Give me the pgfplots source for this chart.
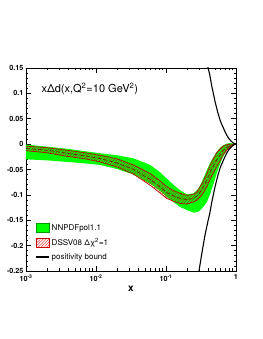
\documentclass[border=0pt]{standalone}
\usepackage{fontspec}
\setmainfont{TeX Gyre Heros}
\usepackage{pgfplots}
\pgfplotsset{compat=1.18}
\usetikzlibrary{patterns,patterns.meta}
\begin{document}
\begin{tikzpicture}
\begin{axis}[
  scale only axis, width=210pt, height=203pt,
  xmode=log, xmin=1e-3, xmax=1, ymin=-0.25, ymax=0.15,
  xtick={0.001,0.01,0.1,1},
  xticklabels={10\textsuperscript{-3},10\textsuperscript{-2},10\textsuperscript{-1},1},
  ytick={-0.25,-0.2,-0.15,-0.1,-0.05,0,0.05,0.1,0.15},
  yticklabels={-0.25,-0.2,-0.15,-0.1,-0.05,0,0.05,0.1,0.15},
  minor y tick num=4,
  tick label style={font=\fontsize{7.2}{8}\selectfont\bfseries},
  yticklabel style={xshift=1pt},
  major tick length=5pt, minor tick length=2.5pt,
  every tick/.style={black, line width=0.6pt},
  axis line style={line width=0.8pt},
  xlabel={x}, xlabel style={font=\fontsize{10}{11}\selectfont\bfseries, yshift=2pt},
  legend style={at={(rel axis cs:0.045,0.04)}, anchor=south west, draw=none, fill=none,
    font=\fontsize{8}{9}\selectfont, row sep=2.5pt, inner sep=0pt},
  legend cell align=left,
]
\addlegendimage{legend image code/.code={\draw[fill=green,draw=green!60!black] (0pt,-4.5pt) rectangle (13pt,4.5pt);}}
\addlegendentry{NNPDFpol1.1}
\addlegendimage{legend image code/.code={\draw[pattern={Lines[angle=45,distance=2pt,line width=0.35pt]}, pattern color=red!90!black, draw=red!80!black, line width=0.6pt] (0pt,-4.5pt) rectangle (13pt,4.5pt);}}
\addlegendentry{DSSV08 Δχ\textsuperscript{2}=1}
\addlegendimage{legend image code/.code={\draw[black, line width=1.1pt] (0pt,0pt) -- (13pt,0pt);}}
\addlegendentry{positivity bound}

% NNPDF band
\addplot[fill=green, draw=none, forget plot] coordinates {
(0.001,-0.001)(0.002,-0.005)(0.00382,-0.009)(0.007,-0.014)(0.01145,-0.018)(0.02,-0.022)(0.0343,-0.028)(0.0594,-0.041)(0.08,-0.054)(0.1028,-0.068)(0.13,-0.081)(0.1596,-0.091)(0.199,-0.099)(0.2477,-0.097)(0.28,-0.090)(0.308,-0.081)(0.345,-0.066)(0.384,-0.051)(0.43,-0.036)(0.479,-0.025)(0.53,-0.015)(0.596,-0.007)(0.66,-0.002)(0.743,0.001)(0.83,0.002)(0.925,0.001)(1,0)
(1,0)(0.925,-0.001)(0.83,-0.005)(0.743,-0.012)(0.66,-0.024)(0.596,-0.038)(0.53,-0.058)(0.479,-0.078)(0.43,-0.097)(0.384,-0.114)(0.345,-0.123)(0.308,-0.130)(0.28,-0.134)(0.2477,-0.135)(0.199,-0.130)(0.1596,-0.124)(0.13,-0.115)(0.1028,-0.104)(0.08,-0.091)(0.0594,-0.078)(0.0343,-0.060)(0.02,-0.049)(0.01145,-0.041)(0.007,-0.038)(0.00382,-0.035)(0.002,-0.032)(0.001,-0.030)
} -- cycle;

% DSSV band
\addplot[pattern={Lines[angle=45,distance=2pt,line width=0.35pt]}, pattern color=red!80!black, draw=none, forget plot] coordinates {
(0.001,-0.004)(0.002,-0.007)(0.00382,-0.012)(0.007,-0.017)(0.01145,-0.022)(0.02,-0.029)(0.0343,-0.041)(0.0594,-0.058)(0.08,-0.071)(0.1028,-0.084)(0.13,-0.092)(0.1596,-0.097)(0.199,-0.101)(0.2477,-0.099)(0.28,-0.093)(0.308,-0.084)(0.345,-0.072)(0.384,-0.058)(0.43,-0.041)(0.479,-0.028)(0.53,-0.017)(0.596,-0.009)(0.66,-0.004)(0.743,-0.001)(0.83,0)(0.925,0)(1,0)
(1,0)(0.925,-0.001)(0.83,-0.005)(0.743,-0.012)(0.66,-0.020)(0.596,-0.032)(0.53,-0.045)(0.479,-0.056)(0.43,-0.068)(0.384,-0.084)(0.345,-0.095)(0.308,-0.104)(0.28,-0.110)(0.2477,-0.114)(0.199,-0.118)(0.1596,-0.117)(0.13,-0.113)(0.1028,-0.107)(0.08,-0.095)(0.0594,-0.081)(0.0343,-0.059)(0.02,-0.045)(0.01145,-0.035)(0.007,-0.029)(0.00382,-0.024)(0.002,-0.017)(0.001,-0.013)
} -- cycle;
\addplot[red!75!black, line width=0.7pt, forget plot] coordinates {
(0.001,-0.004)(0.002,-0.007)(0.00382,-0.012)(0.007,-0.017)(0.01145,-0.022)(0.02,-0.029)(0.0343,-0.041)(0.0594,-0.058)(0.08,-0.071)(0.1028,-0.084)(0.13,-0.092)(0.1596,-0.097)(0.199,-0.101)(0.2477,-0.099)(0.28,-0.093)(0.308,-0.084)(0.345,-0.072)(0.384,-0.058)(0.43,-0.041)(0.479,-0.028)(0.53,-0.017)(0.596,-0.009)(0.66,-0.004)(0.743,-0.001)(0.83,0)(0.925,0)(1,0)};
\addplot[red!75!black, line width=0.7pt, forget plot] coordinates {
(0.001,-0.013)(0.002,-0.017)(0.00382,-0.024)(0.007,-0.029)(0.01145,-0.035)(0.02,-0.045)(0.0343,-0.059)(0.0594,-0.081)(0.08,-0.095)(0.1028,-0.107)(0.13,-0.113)(0.1596,-0.117)(0.199,-0.118)(0.2477,-0.114)(0.28,-0.110)(0.308,-0.104)(0.345,-0.095)(0.384,-0.084)(0.43,-0.068)(0.479,-0.056)(0.53,-0.045)(0.596,-0.032)(0.66,-0.020)(0.743,-0.012)(0.83,-0.005)(0.925,-0.001)(1,0)};
\addplot[red!50!black, line width=0.6pt, dash pattern=on 4pt off 2pt, forget plot] coordinates {
(0.001,-0.0085)(0.002,-0.012)(0.00382,-0.018)(0.007,-0.023)(0.01145,-0.0285)(0.02,-0.037)(0.0343,-0.050)(0.0594,-0.0695)(0.08,-0.083)(0.1028,-0.0955)(0.13,-0.1025)(0.1596,-0.107)(0.199,-0.1095)(0.2477,-0.1065)(0.28,-0.1015)(0.308,-0.094)(0.345,-0.0835)(0.384,-0.071)(0.43,-0.0545)(0.479,-0.042)(0.53,-0.031)(0.596,-0.0205)(0.66,-0.012)(0.743,-0.0065)(0.83,-0.0025)(0.925,-0.0005)(1,0)};

% positivity bound
\addplot[black, line width=1.1pt, forget plot] coordinates {
(0.27,0.285)(0.30,0.245)(0.33,0.210)(0.36,0.180)(0.40,0.150)(0.42,0.138)(0.45,0.115)(0.50,0.085)(0.55,0.062)(0.60,0.045)(0.65,0.034)(0.70,0.024)(0.75,0.016)(0.80,0.010)(0.85,0.006)(0.90,0.003)(0.95,0.001)(1.0,0)};
\addplot[black, line width=1.1pt, forget plot] coordinates {
(0.27,-0.285)(0.30,-0.245)(0.33,-0.210)(0.36,-0.180)(0.40,-0.150)(0.42,-0.138)(0.45,-0.115)(0.50,-0.085)(0.55,-0.062)(0.60,-0.045)(0.65,-0.034)(0.70,-0.024)(0.75,-0.016)(0.80,-0.010)(0.85,-0.006)(0.90,-0.003)(0.95,-0.001)(1.0,0)};

\node[anchor=base west, font=\fontsize{11}{12}\selectfont] at (rel axis cs:0.057,0.877) {xΔd(x,Q\textsuperscript{2}=10 GeV\textsuperscript{2})};
\end{axis}
\pgfresetboundingbox
\path (current axis.south west) ++(-26pt,-68pt) rectangle ++(262pt,339pt);
\end{tikzpicture}
\end{document}
